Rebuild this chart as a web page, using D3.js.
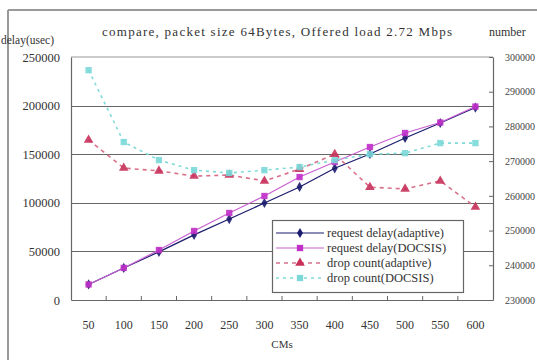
<!DOCTYPE html>
<html><head><meta charset="utf-8">
<script src="https://cdn.jsdelivr.net/npm/d3@7"></script>
<style>body{margin:0;background:#fff}svg{display:block;font-family:"Liberation Serif","DejaVu Serif",serif}</style>
</head><body>
<svg id="c" width="537" height="360"></svg>
<script>
const categories = ["50","100","150","200","250","300","350","400","450","500","550","600"];
const delayAdaptive = [16000,33000,49500,67000,83300,99800,116300,135500,150200,166700,182100,198000];
const delayDOCSIS   = [16000,33000,51400,71000,89500,107000,126500,142000,157400,171800,182600,199000];
const dropAdaptive  = [276100,268000,267200,265700,266000,264300,267700,272000,262500,262000,264300,256800];
const dropDOCSIS    = [296200,275500,270300,267400,266600,267400,268300,270300,272000,272300,275200,275200];
const leftTicks  = [0,50000,100000,150000,200000,250000];
const rightTicks = [230000,240000,250000,260000,270000,280000,290000,300000];
const seriesNames = ["request delay(adaptive)","request delay(DOCSIS)","drop count(adaptive)","drop count(DOCSIS)"];
const titleText = "compare, packet size 64Bytes, Offered load 2.72 Mbps";

const svg = d3.select("#c");
const L = 71, R = 493, T = 57, B = 300;

// outer frame
svg.append("line").attr("x1",8).attr("x2",537).attr("y1",10).attr("y2",10).attr("stroke","#999").attr("stroke-width",2);
svg.append("line").attr("x1",8).attr("x2",8).attr("y1",10).attr("y2",360).attr("stroke","#999").attr("stroke-width",2);

const x = d3.scaleBand().domain(categories).range([L,R]);
const cx = d => x(d) + x.bandwidth()/2;
const yL = d3.scaleLinear().domain([0,250000]).range([B,T]);
const yR = d3.scaleLinear().domain([230000,300000]).range([B,T]);

// plot area top shade
svg.append("line").attr("x1",L).attr("x2",R).attr("y1",T).attr("y2",T).attr("stroke","#ccc").attr("stroke-width",2);

// gridlines
svg.append("g").selectAll("line").data(leftTicks.filter(v=>v>0 && v<250000)).join("line")
  .attr("x1",L).attr("x2",R).attr("y1",d=>Math.round(yL(d))+0.5).attr("y2",d=>Math.round(yL(d))+0.5)
  .attr("stroke","#666").attr("stroke-width",1.2);

// axes
const gL = svg.append("g").attr("transform",`translate(${L},0)`)
  .call(d3.axisLeft(yL).tickValues(leftTicks).tickSize(0).tickPadding(11).tickFormat(d=>d));
gL.select(".domain").attr("stroke","#666").attr("stroke-width",1.2);
gL.selectAll("text").attr("font-size",12.5).attr("font-family","Liberation Serif").attr("fill","#333");

const gR = svg.append("g").attr("transform",`translate(${R},0)`)
  .call(d3.axisRight(yR).tickValues(rightTicks).tickSizeInner(-4).tickSizeOuter(0).tickPadding(12).tickFormat(d=>d));
gR.select(".domain").attr("stroke","#666").attr("stroke-width",1.2);
gR.selectAll(".tick line").attr("stroke","#666");
gR.selectAll("text").attr("font-size",10).attr("font-family","Liberation Serif").attr("fill","#444");

const gB = svg.append("g").attr("transform",`translate(0,${B})`)
  .call(d3.axisBottom(x).tickSize(0).tickPadding(20));
gB.select(".domain").attr("stroke","#666").attr("stroke-width",1.2);
gB.selectAll("text").attr("font-size",12).attr("font-family","Liberation Serif").attr("fill","#333");
// inward ticks between categories
svg.append("g").selectAll("line").data(categories.slice(1)).join("line")
  .attr("x1",d=>x(d)).attr("x2",d=>x(d)).attr("y1",B).attr("y2",B-4).attr("stroke","#666");

// texts
svg.append("text").attr("x",102).attr("y",36).attr("font-size",13).attr("fill","#333")
  .attr("textLength",350).attr("lengthAdjust","spacing").text(titleText);
svg.append("text").attr("x",1).attr("y",44).attr("font-size",11.5).attr("fill","#333").text("delay(usec)");
svg.append("text").attr("x",489).attr("y",36).attr("font-size",12).attr("fill","#333").text("number");
svg.append("text").attr("x",282).attr("y",348).attr("text-anchor","middle").attr("font-size",11).attr("fill","#333").text("CMs");

// series
const series = [
  {name:seriesNames[0], data:delayAdaptive, y:yL, color:"#1a1a6e", line:"#1a1a6e", dash:null, sym:d3.symbolDiamond, size:30},
  {name:seriesNames[1], data:delayDOCSIS, y:yL, color:"#c030c8", line:"#c860d0", dash:null, sym:d3.symbolSquare, size:40},
  {name:seriesNames[2], data:dropAdaptive, y:yR, color:"#c8305a", line:"#d8708a", dash:"4,4", sym:d3.symbolTriangle, size:40},
  {name:seriesNames[3], data:dropDOCSIS, y:yR, color:"#7ad8d8", line:"#80dada", dash:"3,4", sym:d3.symbolSquare, size:40}
];
series.forEach(s=>{
  const line = d3.line().x((d,i)=>cx(categories[i])).y(d=>s.y(d));
  svg.append("path").attr("d",line(s.data)).attr("fill","none").attr("stroke",s.line)
    .attr("stroke-width",s.dash?1.6:1.2).attr("stroke-dasharray",s.dash);
  svg.append("g").selectAll("path").data(s.data).join("path")
    .attr("transform",(d,i)=>`translate(${cx(categories[i])},${s.y(d)})`)
    .attr("d",d3.symbol(s.sym,s.size)).attr("fill",s.color).attr("opacity",0.9);
});

// legend
const lg = svg.append("g");
lg.append("rect").attr("x",272.5).attr("y",220.5).attr("width",191).attr("height",72).attr("fill","#fff").attr("stroke","#666").attr("stroke-width",1.2);
series.forEach((s,i)=>{
  const yy = 233 + i*15;
  lg.append("line").attr("x1",276).attr("x2",324).attr("y1",yy).attr("y2",yy).attr("stroke",s.line)
    .attr("stroke-width",s.dash?1.6:1.2).attr("stroke-dasharray",s.dash);
  lg.append("path").attr("transform",`translate(300,${yy})`).attr("d",d3.symbol(s.sym,s.size)).attr("fill",s.color);
  lg.append("text").attr("x",327).attr("y",yy+4).attr("font-size",12.5).attr("fill","#333").text(s.name);
});
</script>
</body></html>
